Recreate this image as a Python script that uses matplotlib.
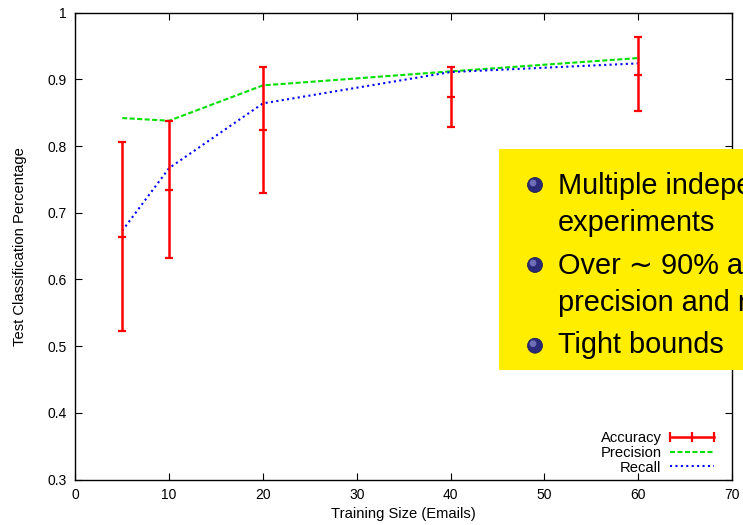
import matplotlib
import matplotlib.pyplot as plt
from matplotlib.lines import Line2D
from matplotlib.patches import Circle, Rectangle
from matplotlib.transforms import IdentityTransform

matplotlib.use("Agg")

plt.rcParams["font.family"] = ["Liberation Sans", "DejaVu Sans"]

W, H = 743, 525

train_size = [5, 10, 20, 40, 60]
accuracy = [0.664, 0.734, 0.824, 0.874, 0.907]
accuracy_low = [0.523, 0.632, 0.730, 0.829, 0.852]
accuracy_high = [0.806, 0.837, 0.918, 0.919, 0.963]
precision = [0.842, 0.838, 0.891, 0.912, 0.932]
recall = [0.673, 0.767, 0.864, 0.911, 0.924]

x_ticks = [0, 10, 20, 30, 40, 50, 60, 70]
x_tick_labels = ["0", "10", "20", "30", "40", "50", "60", "70"]
y_ticks = [0.3, 0.4, 0.5, 0.6, 0.7, 0.8, 0.9, 1.0]
y_tick_labels = ["0.3", "0.4", "0.5", "0.6", "0.7", "0.8", "0.9", "1"]

bullet_lines = [
    ["Multiple independent", "experiments"],
    ["Over \u223c 90% accuracy,", "precision and recall"],
    ["Tight bounds"],
]


def fx(x):
    return x / W


def fy(y):
    return 1 - y / H


fig = plt.figure(figsize=(W / 100, H / 100), dpi=100)
ax = fig.add_axes([fx(75.3), fy(479.5), fx(732 - 75.3), (479.5 - 12.7) / H])

err_low = [a - lo for a, lo in zip(accuracy, accuracy_low)]
err_high = [hi - a for a, hi in zip(accuracy, accuracy_high)]
ax.errorbar(train_size, accuracy, yerr=[err_low, err_high], fmt="_", color="red",
            ecolor="red", elinewidth=1.8, capsize=2.6, capthick=1.6,
            markersize=6, markeredgewidth=1.6, zorder=3)
ax.plot(train_size, precision, color="#00e000", lw=1.5, dashes=(2.4, 1.2), zorder=2)
ax.plot(train_size, recall, color="#0000ff", lw=1.5, dashes=(1.0, 1.6), zorder=2)

ax.set_xlim(0, 70)
ax.set_ylim(0.3, 1.0)
ax.set_xticks(x_ticks)
ax.set_xticklabels(x_tick_labels)
ax.set_yticks(y_ticks)
ax.set_yticklabels(y_tick_labels)
ax.tick_params(direction="in", top=True, right=True, length=5, width=0.8,
               labelsize=10, pad=6)
for spine in ax.spines.values():
    spine.set_linewidth(1.0)
ax.set_xlabel("Training Size (Emails)", fontsize=10.6, labelpad=4)
ax.set_ylabel("Test Classification Percentage", fontsize=10.6, labelpad=15)

handles = [
    Line2D([], [], color="red", lw=1.8, marker="|", markersize=7, markeredgewidth=1.6),
    Line2D([], [], color="#00e000", lw=1.5, dashes=(2.4, 1.2)),
    Line2D([], [], color="#0000ff", lw=1.5, dashes=(1.0, 1.6)),
]
ax.legend(handles, ["Accuracy", "Precision", "Recall"], loc="lower right",
          frameon=False, markerfirst=False, numpoints=3, fontsize=10.6,
          handlelength=3.6, handletextpad=0.3, labelspacing=0.05,
          borderaxespad=0.0, bbox_to_anchor=(0.989, -0.002))

# yellow callout box, running off the right edge
fig.add_artist(Rectangle((fx(499), fy(370)), fx(W - 499 + 5), (370 - 149.3) / H,
                         transform=fig.transFigure, facecolor="#ffee00",
                         edgecolor="none", zorder=5))

bullet_y = [185, 265, 345.7]
baselines = [[194, 230.7], [274.3, 310.7], [353.3]]
px = IdentityTransform()
for by, lines, bases in zip(bullet_y, bullet_lines, baselines):
    cx, cy = 535, H - by
    fig.add_artist(Circle((cx, cy), 7.5, transform=px, facecolor="#2b2b7a",
                          edgecolor="#1a1a50", lw=0.5, zorder=6))
    fig.add_artist(Circle((cx - 2.0, cy + 2.0), 3.4, transform=px,
                          facecolor="#8585cc", edgecolor="none", alpha=0.75, zorder=7))
    for text, base in zip(lines, bases):
        fig.text(fx(558), fy(base), text, fontsize=20.8, va="baseline", ha="left",
                 color="black", zorder=8)

fig.savefig("out.png", dpi=100)
